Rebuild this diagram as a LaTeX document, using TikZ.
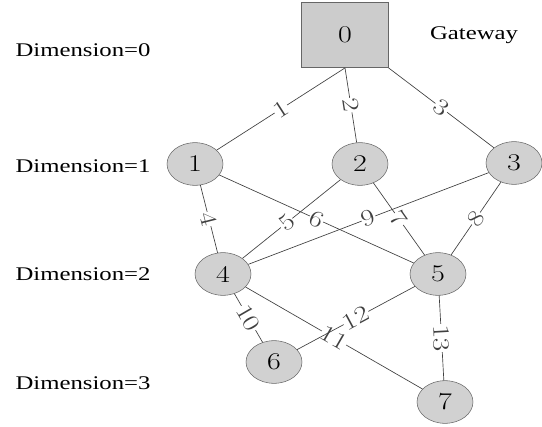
\documentclass[tikz,border=0pt]{standalone}
\usepackage{fontspec}
\setmainfont{Liberation Serif}[FakeStretch=1.28]
\newfontfamily\numfont{Latin Modern Roman}[FakeStretch=1.25]
\usetikzlibrary{shapes.geometric}
\begin{document}
\begin{tikzpicture}[x=0.75pt,y=-0.75pt,
    dev/.style={ellipse,draw=black!60,fill=black!18,minimum width=42pt,minimum height=32pt,inner sep=0pt,font=\numfont\fontsize{18}{20}\selectfont},
    gw/.style={draw=black!60,fill=black!20,minimum width=65pt,minimum height=49pt,font=\numfont\fontsize{18}{20}\selectfont},
    link/.style={black!75,line width=0.5pt},
    cost/.style={midway,sloped,fill=white,inner sep=0.4pt,font=\numfont\fontsize{17.5}{19}\selectfont},
    dim/.style={font=\fontsize{14.5}{16}\selectfont}]
    \useasboundingbox (0,0) rectangle (542,427);
    % levels
    \node[dim] (d0) at (83,50) {Dimension=0};
    \node[dim] (d1) at (83,166) {Dimension=1};
    \node[dim] (d2) at (83,274) {Dimension=2};
    \node[dim] (d3) at (83,383) {Dimension=3};
    \node[dim] (gwtext) at (474,35) {Gateway};
    % devices
    \node[gw] (n0) at (345,35) {0};
    \node[dev] (n1) at (195,164) {1};
    \node[dev] (n2) at (360,164) {2};
    \node[dev] (n3) at (514,163) {3};
    \node[dev] (n4) at (223,274) {4};
    \node[dev] (n5) at (438,274) {5};
    \node[dev] (n6) at (274,362) {6};
    \node[dev] (n7) at (445,402) {7};
    % links
    \draw[link] (n0.south) -- (n1) node[cost] {1};
    \draw[link] (n0.south) -- (n2) node[cost] {2};
    \draw[link] (n0.south east) -- (n3) node[cost] {3};
    \draw[link] (n1) -- (n4) node[cost] {4};
    \draw[link] (n2) -- (n4) node[cost,pos=0.55] {5};
    \draw[link] (n1) -- (n5) node[cost] {6};
    \draw[link] (n2) -- (n5) node[cost] {7};
    \draw[link] (n3) -- (n5) node[cost] {8};
    \draw[link] (n3) -- (n4) node[cost] {9};
    \draw[link] (n4) -- (n6) node[cost] {10};
    \draw[link] (n4) -- (n7) node[cost] {11};
    \draw[link] (n5) -- (n6) node[cost] {12};
    \draw[link] (n5) -- (n7) node[cost] {13};
\end{tikzpicture}
\end{document}
